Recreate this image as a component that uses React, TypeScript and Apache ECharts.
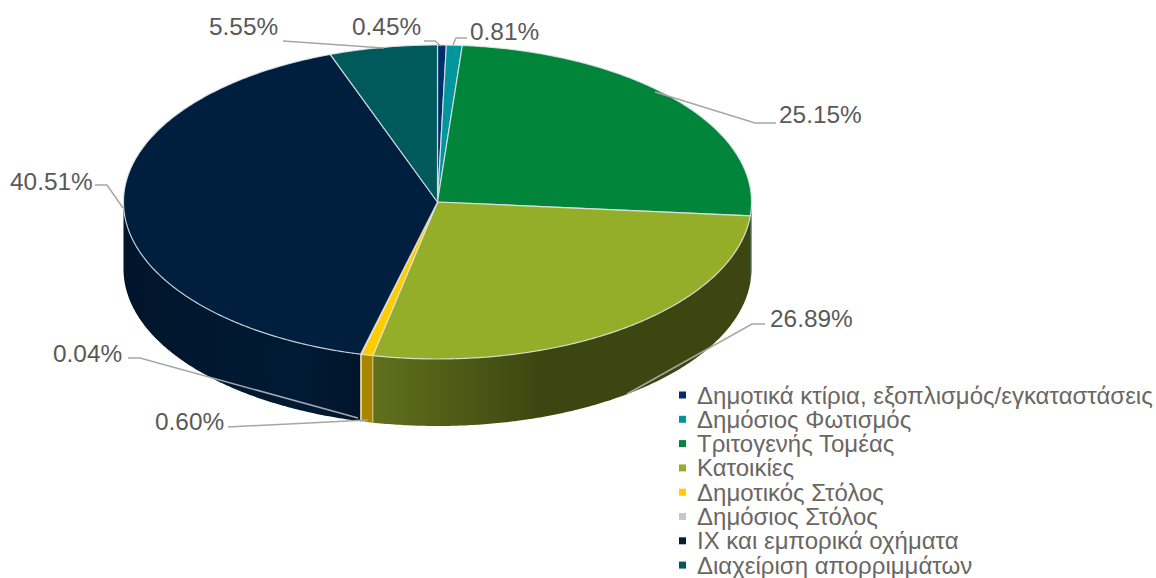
import React, { useEffect, useRef } from "react";
import * as echarts from "echarts";

const categories = [
  "Δημοτικά κτίρια, εξοπλισμός/εγκαταστάσεις",
  "Δημόσιος Φωτισμός",
  "Τριτογενής Τομέας",
  "Κατοικίες",
  "Δημοτικός Στόλος",
  "Δημόσιος Στόλος",
  "ΙΧ και εμπορικά οχήματα",
  "Διαχείριση απορριμμάτων",
];
const shares = [0.45, 0.81, 25.15, 26.89, 0.6, 0.04, 40.51, 5.55];
const topColors = ["#002f6c", "#00969b", "#00853a", "#95ae2a", "#ffcc00", "#c8c8c8", "#001e3e", "#005a5c"];
const sideLight = ["#001f48", "#006468", "#003d1a", "#61701c", "#a88600", "#8c8c8c", "#001a35", "#003c3d"];
const sideDark = ["#001f48", "#006468", "#003d1a", "#3d4510", "#a88600", "#8c8c8c", "#00152b", "#003c3d"];

const labelBoxes = [
  { x: 352, y: 26 }, { x: 470, y: 31 }, { x: 779, y: 114 }, { x: 770, y: 318 },
  { x: 155, y: 421 }, { x: 53, y: 353 }, { x: 10, y: 181 }, { x: 209, y: 26 },
];
const leaders = [
  [[424, 41], [435, 41], [441, 46]],
  [[467, 38], [456, 38], [453, 45]],
  [[776, 123], [755, 123], [655, 92]],
  [[765, 324], [752, 324], [627, 394]],
  [[228, 427], [368, 420]],
  [[128, 358], [140, 358], [358, 418]],
  [[95, 185], [107, 185], [123, 208]],
  [[283, 41], [384, 48]],
];

const CX = 437.5, CY = 202, RX = 314, RY = 157, DEPTH = 67;
const pt = (deg: number, dy = 0): number[] => {
  const r = (deg * Math.PI) / 180;
  return [CX + RX * Math.sin(r), CY - RY * Math.cos(r) + dy];
};
const arc = (a: number, b: number, dy = 0): number[][] => {
  const out: number[][] = [];
  const n = Math.max(2, Math.ceil((b - a) / 0.5));
  for (let i = 0; i <= n; i++) out.push(pt(a + ((b - a) * i) / n, dy));
  return out;
};
const total = shares.reduce((s, v) => s + v, 0);
const startAngle = (i: number) => (shares.slice(0, i).reduce((s, v) => s + v, 0) / total) * 360;

const sliceRender = (i: number) => () => {
  const a0 = startAngle(i);
  const a1 = startAngle(i + 1);
  const children: any[] = [];
  const s0 = Math.max(a0, 90);
  const s1 = Math.min(a1, 270);
  if (s1 > s0) {
    const top = arc(s0, s1);
    const bottom = arc(s0, s1, DEPTH).reverse();
    children.push({
      type: "polygon",
      shape: { points: top.concat(bottom) },
      style: {
        fill: new echarts.graphic.LinearGradient(0, 0, 1, 0, i === 3
          ? [{ offset: 0, color: sideLight[i] }, { offset: 0.45, color: sideDark[i] }, { offset: 1, color: sideDark[i] }]
          : [{ offset: 0, color: sideDark[i] }, { offset: 0.75, color: sideLight[i] }, { offset: 1, color: sideDark[i] }]),
        stroke: i === 5 ? "#bdbdbd" : "none",
        lineWidth: i === 5 ? 1 : 0,
      },
    });
    if (a0 > 180 && a0 < 270) {
      const p = pt(a0);
      children.push({
        type: "line",
        shape: { x1: p[0], y1: p[1], x2: p[0], y2: p[1] + DEPTH },
        style: { stroke: "rgba(225,215,165,0.85)", lineWidth: 1 },
      });
    }
  }
  children.push({
    type: "polygon",
    shape: { points: [[CX, CY], ...arc(a0, a1)] },
    style: { fill: topColors[i], stroke: "rgba(225,228,228,0.85)", lineWidth: 1.2 },
  });
  return { type: "group", children };
};

const labelRender = (params: any) => {
  const i = params.dataIndex;
  return {
    type: "group",
    children: [
      {
        type: "polyline",
        shape: { points: leaders[i] },
        style: { stroke: "#a6a6a6", lineWidth: 1.5, fill: "none" },
      },
      {
        type: "text",
        style: {
          text: shares[i].toFixed(2) + "%",
          x: labelBoxes[i].x,
          y: labelBoxes[i].y,
          fill: "#595959",
          font: '24.4px "Liberation Sans", Arial, sans-serif',
          align: "left",
          verticalAlign: "middle",
        },
      },
    ],
  };
};

export default function App() {
  const ref = useRef<HTMLDivElement>(null);
  useEffect(() => {
    const chart = echarts.init(ref.current!, null, { renderer: "svg" });
    chart.setOption({
      animation: false,
      backgroundColor: "#ffffff",
      legend: {
        data: categories,
        orient: "vertical",
        left: 674,
        top: 378,
        height: 240,
        width: 480,
        itemWidth: 7,
        itemHeight: 7,
        itemGap: 0.3,
        icon: "rect",
        selectedMode: false,
        textStyle: {
          color: "#6a6662",
          fontFamily: '"Liberation Sans", Arial, sans-serif',
          fontSize: 24,
          lineHeight: 24,
          padding: [0, 0, 0, 6],
        },
      },
      series: [
        ...categories.map((name, i) => ({
          type: "custom",
          name,
          coordinateSystem: "none",
          z: 2,
          silent: true,
          itemStyle: { color: topColors[i] },
          renderItem: sliceRender(i),
          data: [shares[i]],
        })),
        {
          type: "custom",
          name: "labels",
          coordinateSystem: "none",
          z: 3,
          silent: true,
          renderItem: labelRender,
          data: shares,
        },
      ],
    });
    return () => chart.dispose();
  }, []);
  return <div ref={ref} style={{ position: "absolute", left: 0, top: 0, width: 1156, height: 578 }} />;
}
